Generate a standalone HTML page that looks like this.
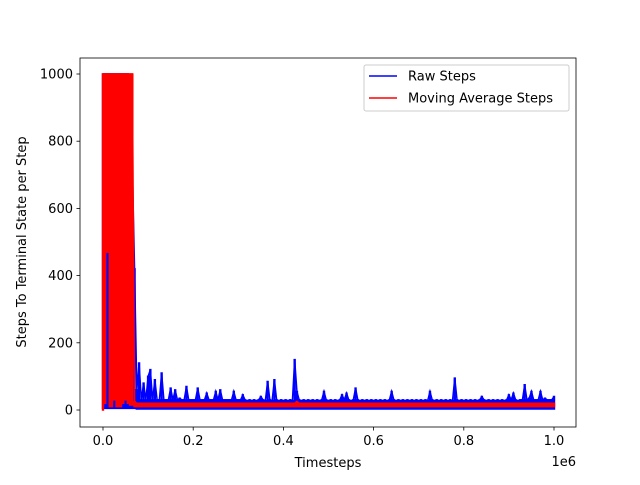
<!DOCTYPE html>
<html><head><meta charset="utf-8"><style>
body{margin:0;background:#fff}
text{font-family:"DejaVu Sans","Liberation Sans",sans-serif;font-size:13px;fill:#000}
</style></head><body>
<svg id="chart" width="640" height="480" xmlns="http://www.w3.org/2000/svg">
<rect width="640" height="480" fill="#fff"/>
<g id="plot"></g>
<rect x="80" y="58" width="496" height="369" fill="none" stroke="#000" stroke-width="0.8"/>
<g id="axes"></g>
<text x="328" y="467" text-anchor="middle">Timesteps</text>
<text x="576" y="466" text-anchor="end">1e6</text>
<text transform="translate(26,242) rotate(-90)" text-anchor="middle">Steps To Terminal State per Step</text>
<g>
<rect x="364" y="65" width="205" height="46" rx="2" fill="#fff" fill-opacity="0.8" stroke="#ccc"/>
<line x1="369" y1="76" x2="397" y2="76" stroke="#0000ff" stroke-width="1.5"/>
<text x="408" y="80.5">Raw Steps</text>
<line x1="369" y1="98" x2="397" y2="98" stroke="#ff0000" stroke-width="1.5"/>
<text x="408" y="102.5">Moving Average Steps</text>
</g>
</svg>
<script>
const xTicks=[0,0.2,0.4,0.6,0.8,1.0];
const xTickLabels=["0.0","0.2","0.4","0.6","0.8","1.0"];
const yTicks=[0,200,400,600,800,1000];
const stepX=0.005;
// per-bin max and min of raw steps (bins of 0.005e6 timesteps)
const rawMax=[1000,1000,1000,1000,1000,1000,1000,1000,1000,1000,1000,1000,870,730,420,60,140,
30,80,30,100,120,30,90,30,30,110,
30,30,30,65,30,60,30,35,30,30,
70,30,30,30,30,65,30,30,30,50,
30,30,30,55,30,60,30,30,30,30,
30,55,30,30,30,45,30,28,30,28,
30,28,30,40,30,28,85,30,28,90,
30,28,30,28,30,28,30,28,150,55,
30,28,30,28,30,28,30,28,30,28,
30,55,30,28,30,28,30,28,30,45,
30,50,30,28,30,65,30,28,30,28,
30,28,30,28,30,28,30,28,30,28,
30,55,30,28,30,28,30,28,30,28,
30,28,30,28,30,28,30,28,55,30,
28,30,28,30,28,30,28,30,28,95,
30,28,30,28,30,28,30,28,30,28,
30,40,30,28,30,28,30,28,30,28,
30,28,30,45,30,50,30,28,30,30,
75,30,35,55,30,30,30,55,30,35,
30,30,30,40];
const rawMin=[5,5,5,5,5,5,5,5,5,5,5,5,5,5,5,3,3,
3,3,3,3,3,3,3,3,3,3,3,3,3,3,3,3,3,3,3,3,3,3,3,3,3,3,3,3,3,3,3,3,3,3,3,3,3,3,3,3,3,3,
3,3,3,3,3,3,3,3,3,3,3,3,3,3,3,3,3,3,3,3,3,3,3,3,3,3,3,3,3,3,3,3,3,3,3,3,3,3,3,3,3,3,
3,3,3,3,3,3,3,3,3,3,3,3,3,3,3,3,3,3,3,3,3,3,3,3,3,3,3,3,3,3,3,3,3,3,3,3,3,3,3,3,3,3,
3,3,3,3,3,3,3,3,3,3,3,3,3,3,3,3,3,3,3,3,3,3,3,3,3,3,3,3,3,3,3,3,3,3,3,3,3,3,3,3,3,3,
3,3,3,3,3,3,3,3,3,3,3,3,3,3,3,3,3,3,3,3,3,3];
// per-bin max and min of moving average
const maMax=[1000,1000,1000,1000,1000,1000,1000,1000,1000,1000,1000,1000,1000,1000,25,
20,20,20,20,20,20,20,20,20,20,20,20,20,20,20,20,20,20,20,20,20,20,20,20,20,20,20,20,20,20,
20,20,20,20,20,20,20,20,20,20,20,20,20,20,20,20,20,20,20,20,20,20,20,20,20,20,20,20,20,20,
20,20,20,20,20,20,20,20,20,20,20,25,20,20,20,20,20,20,20,20,20,20,20,20,20,20,20,20,20,20,
20,20,20,20,20,20,20,20,20,20,20,20,20,20,20,20,20,20,20,20,20,20,20,20,20,20,20,20,20,20,
20,20,20,20,20,20,20,20,20,20,20,20,20,20,20,20,20,20,20,20,20,20,20,20,20,20,20,20,20,20,
20,20,20,20,20,20,20,20,20,20,20,20,20,20,20,20,20,20,20,20,20,20,20,20,20,20,20,20,20,20,
20,20,20,20,20,20];
const maMin=[0,20,470,10,10,30,10,10,10,20,30,20,15,15,10,
10,10,10,10,10,10,10,10,10,10,10,10,10,10,10,10,10,10,10,10,10,10,10,10,10,10,10,10,10,10,
10,10,10,10,10,10,10,10,10,10,10,10,10,10,10,10,10,10,10,10,10,10,10,10,10,10,10,10,10,10,
10,10,10,10,10,10,10,10,10,10,10,10,10,10,10,10,10,10,10,10,10,10,10,10,10,10,10,10,10,10,
10,10,10,10,10,10,10,10,10,10,10,10,10,10,10,10,10,10,10,10,10,10,10,10,10,10,10,10,10,10,
10,10,10,10,10,10,10,10,10,10,10,10,10,10,10,10,10,10,10,10,10,10,10,10,10,10,10,10,10,10,
10,10,10,10,10,10,10,10,10,10,10,10,10,10,10,10,10,10,10,10,10,10,10,10,10,10,10,10,10,10,
10,10,10,10,10,10];
const NS="http://www.w3.org/2000/svg";
function sx(v){return 103+v*451;}
function sy(v){return 410-v*0.336;}
const plot=document.getElementById('plot'),axes=document.getElementById('axes');
function mk(t,a,p){const e=document.createElementNS(NS,t);for(const k in a)e.setAttribute(k,a[k]);p.appendChild(e);return e;}
function series(maxArr,minArr,color,name){
  const g=mk('g',{},plot);
  
  
  let d='';
  maxArr.forEach((v,i)=>{
    const x=sx(i*stepX).toFixed(2);
    d+='M'+x+','+(sy(v)-0.75).toFixed(2)+'V'+(sy(minArr[i])+0.75).toFixed(2);
  });
  mk('path',{d:d,stroke:color,'stroke-width':2.4,fill:'none'},g);
  const top=maxArr.map((v,i)=>sx(i*stepX).toFixed(2)+','+sy(v).toFixed(2)).join(' ');
  mk('polyline',{points:top,fill:'none',stroke:color,'stroke-width':1.5},g);
}
series(rawMax,rawMin,'#0000ff','raw-steps-line');
series(maMax,maMin,'#ff0000','moving-average-line');
xTicks.forEach((v,i)=>{
  const l=mk('line',{x1:sx(v),x2:sx(v),y1:427,y2:430.5,stroke:'#000','stroke-width':0.8},axes);
  
  
  const t=mk('text',{x:sx(v),y:445,'text-anchor':'middle'},axes);t.textContent=xTickLabels[i];
  
  
});
yTicks.forEach(v=>{
  const l=mk('line',{x1:76.5,x2:80,y1:sy(v),y2:sy(v),stroke:'#000','stroke-width':0.8},axes);
  
  
  const t=mk('text',{x:73,y:sy(v)+4.5,'text-anchor':'end'},axes);t.textContent=String(v);
  
  
});
</script>
</body></html>
